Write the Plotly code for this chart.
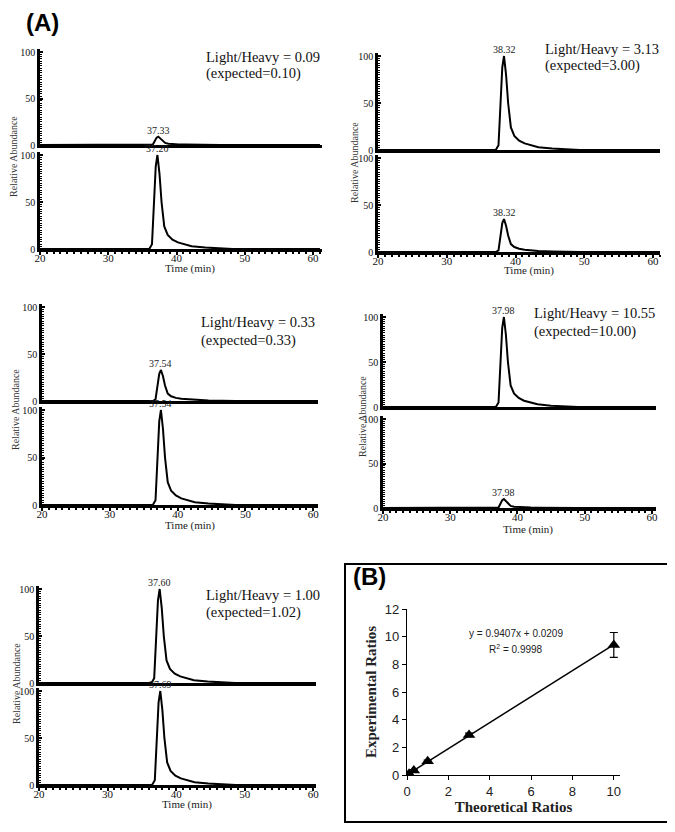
import plotly.graph_objects as go

W, H = 675, 832

# ---------------- data ----------------
# chromatogram traces: (time, relative abundance)
p1_light_t = [20, 36.13, 36.53, 36.83, 37.08, 37.33, 37.63, 37.93, 38.33, 38.83, 39.53, 40.33, 41.33, 42.33, 44.33, 46.33, 48.33, 61]
p1_light_y = [0, 0, 0.5, 4.5, 7.9, 9, 7.2, 4.5, 2.2, 1.4, 0.9, 0.6, 0.5, 0.3, 0.1, 0.1, 0, 0]
p1_heavy_t = [20, 36.0, 36.4, 36.7, 36.95, 37.2, 37.5, 37.8, 38.2, 38.7, 39.4, 40.2, 41.2, 42.2, 44.2, 46.2, 48.2, 61]
p1_heavy_y = [0, 0, 5, 50, 88, 100, 80, 50, 24, 15, 10, 7, 5, 3, 1.5, 0.7, 0, 0]

p2_light_t = [20, 37.12, 37.52, 37.82, 38.07, 38.32, 38.62, 38.92, 39.32, 39.82, 40.52, 41.32, 42.32, 43.32, 45.32, 47.32, 49.32, 61]
p2_light_y = [0, 0, 5, 50, 88, 100, 80, 50, 24, 15, 10, 7, 5, 3, 1.5, 0.7, 0, 0]
p2_heavy_t = [20, 37.12, 37.52, 37.82, 38.07, 38.32, 38.62, 38.92, 39.32, 39.82, 40.52, 41.32, 42.32, 43.32, 45.32, 47.32, 49.32, 61]
p2_heavy_y = [0, 0, 1.8, 17.5, 30.8, 35, 28, 17.5, 8.4, 5.3, 3.5, 2.5, 1.8, 1, 0.5, 0.2, 0, 0]

p3_light_t = [20, 36.34, 36.74, 37.04, 37.29, 37.54, 37.84, 38.14, 38.54, 39.04, 39.74, 40.54, 41.54, 42.54, 44.54, 46.54, 48.54, 61]
p3_light_y = [0, 0, 1.7, 16.5, 29, 33, 26.4, 16.5, 7.9, 5, 3.3, 2.3, 1.7, 1, 0.5, 0.2, 0, 0]
p3_heavy_t = [20, 36.34, 36.74, 37.04, 37.29, 37.54, 37.84, 38.14, 38.54, 39.04, 39.74, 40.54, 41.54, 42.54, 44.54, 46.54, 48.54, 61]
p3_heavy_y = [0, 0, 5, 50, 88, 100, 80, 50, 24, 15, 10, 7, 5, 3, 1.5, 0.7, 0, 0]

p4_light_t = [20, 36.78, 37.18, 37.48, 37.73, 37.98, 38.28, 38.58, 38.98, 39.48, 40.18, 40.98, 41.98, 42.98, 44.98, 46.98, 48.98, 61]
p4_light_y = [0, 0, 5, 50, 88, 100, 80, 50, 24, 15, 10, 7, 5, 3, 1.5, 0.7, 0, 0]
p4_heavy_t = [20, 36.78, 37.18, 37.48, 37.73, 37.98, 38.28, 38.58, 38.98, 39.48, 40.18, 40.98, 41.98, 42.98, 44.98, 46.98, 48.98, 61]
p4_heavy_y = [0, 0, 0.5, 5, 8.8, 10, 8, 5, 2.4, 1.5, 1, 0.7, 0.5, 0.3, 0.15, 0.07, 0, 0]

p5_light_t = [20, 36.4, 36.8, 37.1, 37.35, 37.6, 37.9, 38.2, 38.6, 39.1, 39.8, 40.6, 41.6, 42.6, 44.6, 46.6, 48.6, 61]
p5_light_y = [0, 0, 5, 50, 88, 100, 80, 50, 24, 15, 10, 7, 5, 3, 1.5, 0.7, 0, 0]
p5_heavy_t = [20, 36.49, 36.89, 37.19, 37.44, 37.69, 37.99, 38.29, 38.69, 39.19, 39.89, 40.69, 41.69, 42.69, 44.69, 46.69, 48.69, 61]
p5_heavy_y = [0, 0, 5, 50, 88, 100, 80, 50, 24, 15, 10, 7, 5, 3, 1.5, 0.7, 0, 0]

peak_rt_light = ["37.33", "38.32", "37.54", "37.98", "37.60"]
peak_rt_heavy = ["37.20", "38.32", "37.54", "37.98", "37.69"]
ratio_text = ["0.09", "3.13", "0.33", "10.55", "1.00"]
expected_text = ["0.10", "3.00", "0.33", "10.00", "1.02"]

time_ticks = [20, 30, 40, 50, 60]
abund_ticks = [0, 50, 100]

# panel B
theoretical = [0.1, 0.33, 1, 3, 10]
experimental = [0.09, 0.33, 1.0, 2.9, 9.4]
exp_err = [0.03, 0.05, 0.08, 0.12, 0.9]
fit_slope, fit_intercept = 0.9407, 0.0209
b_ticks_x = [0, 2, 4, 6, 8, 10]
b_ticks_y = [0, 2, 4, 6, 8, 10, 12]

# ---------------- layout helpers ----------------
OFF = 8  # page body margin


def px_x(x):
    return (x - OFF) / W


def px_y(y):
    return 1 - (y - OFF) / H


panels = [
    dict(x0=40, x1=322, xmax=61.3, t=(52, 145), b=(155, 249),
         light=(p1_light_t, p1_light_y), heavy=(p1_heavy_t, p1_heavy_y),
         txt=(204, 57, 73), ra=(14, 157), tm=(190, 268)),
    dict(x0=378, x1=660, xmax=61.0, t=(56, 150), b=(158, 252),
         light=(p2_light_t, p2_light_y), heavy=(p2_heavy_t, p2_heavy_y),
         txt=(543, 49, 65), ra=(355, 163), tm=(529, 271)),
    dict(x0=42, x1=318, xmax=60.7, t=(307, 401), b=(410, 505),
         light=(p3_light_t, p3_light_y), heavy=(p3_heavy_t, p3_heavy_y),
         txt=(199, 322, 340), ra=(16, 410), tm=(190, 525)),
    dict(x0=383, x1=656, xmax=60.6, t=(317, 407), b=(419, 508),
         light=(p4_light_t, p4_light_y), heavy=(p4_heavy_t, p4_heavy_y),
         txt=(532, 313, 332), ra=(362, 417), tm=(528, 529)),
    dict(x0=39, x1=316, xmax=60.4, t=(589, 683), b=(691, 785),
         light=(p5_light_t, p5_light_y), heavy=(p5_heavy_t, p5_heavy_y),
         txt=(204, 595, 612), ra=(16, 684), tm=(187, 804)),
]

fig = go.Figure()
layout = dict(
    width=W, height=H, margin=dict(l=0, r=0, t=0, b=0, pad=0, autoexpand=False),
    paper_bgcolor="white", plot_bgcolor="white", showlegend=False,
)
annotations = []
SERIF = "Liberation Serif"
SANS = "Liberation Sans"
YTOP = 103


def note(x, y, text, size, family, color="#111", xanchor="center", angle=0):
    annotations.append(dict(x=px_x(x), y=px_y(y), xref="paper", yref="paper",
                            xanchor=xanchor, yanchor="middle", showarrow=False,
                            text=text, textangle=angle,
                            font=dict(family=family, size=size, color=color)))


ax = 0
for i, p in enumerate(panels):
    for part, data, lab in [("t", p["light"], peak_rt_light[i]),
                            ("b", p["heavy"], peak_rt_heavy[i])]:
        ax += 1
        xn = "xaxis" if ax == 1 else f"xaxis{ax}"
        yn = "yaxis" if ax == 1 else f"yaxis{ax}"
        xr = "x" if ax == 1 else f"x{ax}"
        yr = "y" if ax == 1 else f"y{ax}"
        y100, y0 = p[part]
        ytop_px = y0 - (y0 - y100) * YTOP / 100
        fig.add_trace(go.Scatter(x=data[0], y=data[1], mode="lines",
                                 line=dict(color="black", width=2),
                                 xaxis=xr, yaxis=yr, hoverinfo="skip"))
        bottom = part == "b"
        layout[xn] = dict(
            domain=[px_x(p["x0"]), px_x(p["x1"])], range=[20, p["xmax"]],
            anchor=yr, showgrid=False, zeroline=False, showline=True,
            linecolor="black", linewidth=2.5, automargin=False,
            tickvals=time_ticks if bottom else [],
            showticklabels=bottom,
            ticks="outside" if bottom else "", ticklen=3, tickwidth=1.5,
            tickcolor="black", ticklabelstandoff=-6,
            minor=dict(dtick=1, ticks="outside" if bottom else "", ticklen=2,
                       tickwidth=1.5, tickcolor="black"),
            tickfont=dict(family=SERIF, size=11, color="#111"),
        )
        layout[yn] = dict(
            domain=[px_y(y0), px_y(ytop_px)], range=[0, YTOP],
            anchor=xr, showgrid=False, zeroline=False, showline=True,
            linecolor="black", linewidth=2.5, automargin=False,
            tickvals=abund_ticks, ticks="inside", ticklen=3, tickwidth=1.5,
            tickcolor="black", ticklabelstandoff=0,
            minor=dict(dtick=2.5, ticks="inside", ticklen=2, tickwidth=1.2,
                       tickcolor="black"),
            tickfont=dict(family=SERIF, size=10, color="#111"),
        )
        pk = max(data[1])
        pk_t = data[0][data[1].index(pk)]
        annotations.append(dict(x=pk_t, y=pk, xref=xr, yref=yr, text=lab,
                                showarrow=False, xanchor="center", yanchor="bottom",
                                yshift=-1,
                                font=dict(family=SERIF, size=10, color="#222")))
    tx, ty1, ty2 = p["txt"]
    note(tx, ty1, f"Light/Heavy = {ratio_text[i]}", 14.5, SERIF, xanchor="left")
    note(tx, ty2, f"(expected={expected_text[i]})", 14.5, SERIF, xanchor="left")
    rx, ry = p["ra"]
    note(rx, ry, "Relative Abundance", 10, SERIF, color="#333", angle=-90)
    mx, my = p["tm"]
    note(mx, my, "Time (min)", 11, SERIF, color="#222")

# ---------------- panel B ----------------
ax += 1
xr, yr = f"x{ax}", f"y{ax}"
fig.add_trace(go.Scatter(
    x=[theoretical[0], theoretical[-1]],
    y=[fit_slope * theoretical[0] + fit_intercept, fit_slope * theoretical[-1] + fit_intercept],
    mode="lines", line=dict(color="black", width=1.5), xaxis=xr, yaxis=yr, hoverinfo="skip"))
fig.add_trace(go.Scatter(
    x=theoretical, y=experimental, mode="markers",
    marker=dict(symbol="triangle-up", size=11, color="black"),
    error_y=dict(type="data", array=exp_err, color="black", thickness=1.2, width=4),
    xaxis=xr, yaxis=yr, hoverinfo="skip"))
layout[f"xaxis{ax}"] = dict(
    domain=[px_x(407), px_x(620)], range=[0, 10.3], anchor=yr, automargin=False,
    showgrid=False, zeroline=False, showline=True, linecolor="black", linewidth=1.2,
    tickvals=b_ticks_x, ticks="outside", ticklen=4, tickcolor="black",
    tickfont=dict(family=SANS, size=13, color="#222"),
    title=dict(text="<b>Theoretical Ratios</b>", standoff=2,
               font=dict(family=SERIF, size=15, color="#222")),
)
layout[f"yaxis{ax}"] = dict(
    domain=[px_y(775), px_y(609)], range=[0, 12], anchor=xr, automargin=False,
    showgrid=False, zeroline=False, showline=True, linecolor="black", linewidth=1.2,
    tickvals=b_ticks_y, ticks="outside", ticklen=4, tickcolor="black",
    tickfont=dict(family=SANS, size=13, color="#222"),
    title=dict(text="<b>Experimental Ratios</b>", standoff=4,
               font=dict(family=SERIF, size=15, color="#222")),
)
note(516, 633, f"y = {fit_slope}x + {fit_intercept}", 10, SANS, color="#222")
note(516, 649, "R<sup>2</sup> = 0.9998", 10, SANS, color="#222")
note(369, 576, "<b>(B)</b>", 24, SANS, color="black")
note(42, 23, "<b>(A)</b>", 24, SANS, color="black")

layout["annotations"] = annotations
layout["shapes"] = [dict(type="rect", xref="paper", yref="paper",
                         x0=px_x(345), x1=px_x(670), y0=px_y(822), y1=px_y(564),
                         line=dict(color="black", width=2))]
fig.update_layout(**layout)
fig.write_html("out.html")
